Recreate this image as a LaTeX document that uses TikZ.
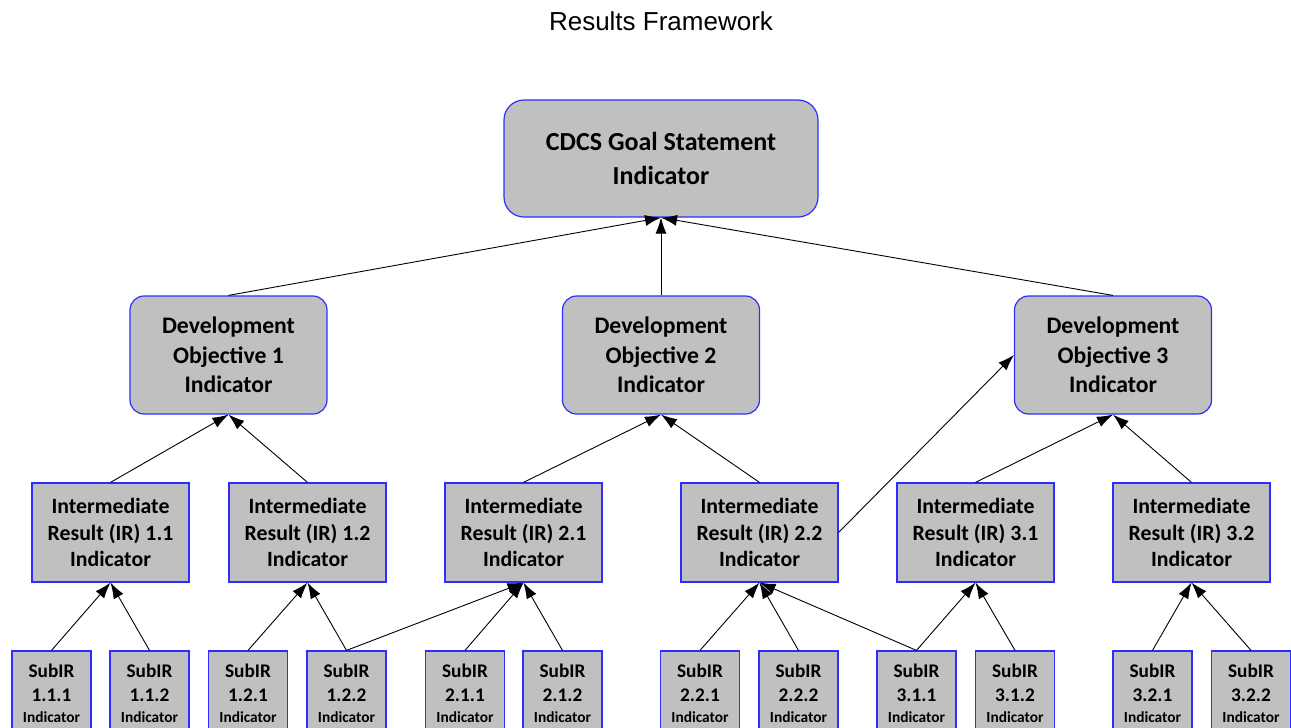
\documentclass[tikz,border=0pt]{standalone}
\usepackage{fontspec}
\setmainfont{Carlito}
\newfontfamily\titlefont{Liberation Sans}
\usetikzlibrary{arrows.meta}
\definecolor{boxfill}{RGB}{192,192,192}
\definecolor{boxline}{RGB}{45,45,255}
\tikzset{
  box/.style={draw=boxline, line width=1.2pt, fill=boxfill, inner sep=0pt, align=center, font=\bfseries},
  goalbox/.style={box, rounded corners=20pt, minimum width=314pt, minimum height=117pt, font=\bfseries\fontsize{26}{34}\selectfont},
  dobox/.style={box, rounded corners=14pt, minimum width=197pt, minimum height=118pt, font=\bfseries\fontsize{23.7}{29.5}\selectfont},
  irbox/.style={box, minimum width=157pt, minimum height=99pt, font=\bfseries\fontsize{21.8}{26.5}\selectfont},
  subbox/.style={box, minimum width=79pt, minimum height=84pt, font=\bfseries\fontsize{19.3}{24}\selectfont},
  arr/.style={-{Latex[length=16pt,width=11pt]}, line width=0.9pt, black},
}
\newcommand{\subtext}[1]{SubIR\\#1\\[-3pt]{\fontsize{15.4}{18}\selectfont Indicator}}
\begin{document}
\begin{tikzpicture}[x=1pt,y=-1pt]
\useasboundingbox (0,0) rectangle (1291,728);
\node[font=\titlefont\fontsize{26}{30}\selectfont] (title) at (661,21) {Results Framework};

\node[goalbox] (goal) at (661,158.5) {CDCS Goal Statement\\Indicator};

\node[dobox] (do1) at (228.5,355) {Development\\Objective 1\\Indicator};
\node[dobox] (do2) at (661,355) {Development\\Objective 2\\Indicator};
\node[dobox] (do3) at (1113,355) {Development\\Objective 3\\Indicator};

\node[irbox] (ir11) at (110.5,532.5) {Intermediate\\Result (IR) 1.1\\Indicator};
\node[irbox] (ir12) at (307.5,532.5) {Intermediate\\Result (IR) 1.2\\Indicator};
\node[irbox] (ir21) at (523.5,532.5) {Intermediate\\Result (IR) 2.1\\Indicator};
\node[irbox] (ir22) at (759.5,532.5) {Intermediate\\Result (IR) 2.2\\Indicator};
\node[irbox] (ir31) at (975.5,532.5) {Intermediate\\Result (IR) 3.1\\Indicator};
\node[irbox] (ir32) at (1191.5,532.5) {Intermediate\\Result (IR) 3.2\\Indicator};

\node[subbox] (s111) at (51.5,693) {\subtext{1.1.1}};
\node[subbox] (s112) at (149.5,693) {\subtext{1.1.2}};
\node[subbox] (s121) at (248,693) {\subtext{1.2.1}};
\node[subbox] (s122) at (346.5,693) {\subtext{1.2.2}};
\node[subbox] (s211) at (465,693) {\subtext{2.1.1}};
\node[subbox] (s212) at (562.5,693) {\subtext{2.1.2}};
\node[subbox] (s221) at (700,693) {\subtext{2.2.1}};
\node[subbox] (s222) at (798.5,693) {\subtext{2.2.2}};
\node[subbox] (s311) at (916.5,693) {\subtext{3.1.1}};
\node[subbox] (s312) at (1015,693) {\subtext{3.1.2}};
\node[subbox] (s321) at (1152.5,693) {\subtext{3.2.1}};
\node[subbox] (s322) at (1251,693) {\subtext{3.2.2}};

\draw[arr] (do1.north) -- (goal.south);
\draw[arr] (do2.north) -- (goal.south);
\draw[arr] (do3.north) -- (goal.south);

\draw[arr] (ir11.north) -- (do1.south);
\draw[arr] (ir12.north) -- (do1.south);
\draw[arr] (ir21.north) -- (do2.south);
\draw[arr] (ir22.north) -- (do2.south);
\draw[arr] (ir31.north) -- (do3.south);
\draw[arr] (ir32.north) -- (do3.south);
\draw[arr] (ir22.east) -- (do3.west);

\draw[arr] (s111.north) -- (ir11.south);
\draw[arr] (s112.north) -- (ir11.south);
\draw[arr] (s121.north) -- (ir12.south);
\draw[arr] (s122.north) -- (ir12.south);
\draw[arr] (s122.north) -- (ir21.south);
\draw[arr] (s211.north) -- (ir21.south);
\draw[arr] (s212.north) -- (ir21.south);
\draw[arr] (s221.north) -- (ir22.south);
\draw[arr] (s222.north) -- (ir22.south);
\draw[arr] (s311.north) -- (ir22.south);
\draw[arr] (s311.north) -- (ir31.south);
\draw[arr] (s312.north) -- (ir31.south);
\draw[arr] (s321.north) -- (ir32.south);
\draw[arr] (s322.north) -- (ir32.south);
\end{tikzpicture}
\end{document}
